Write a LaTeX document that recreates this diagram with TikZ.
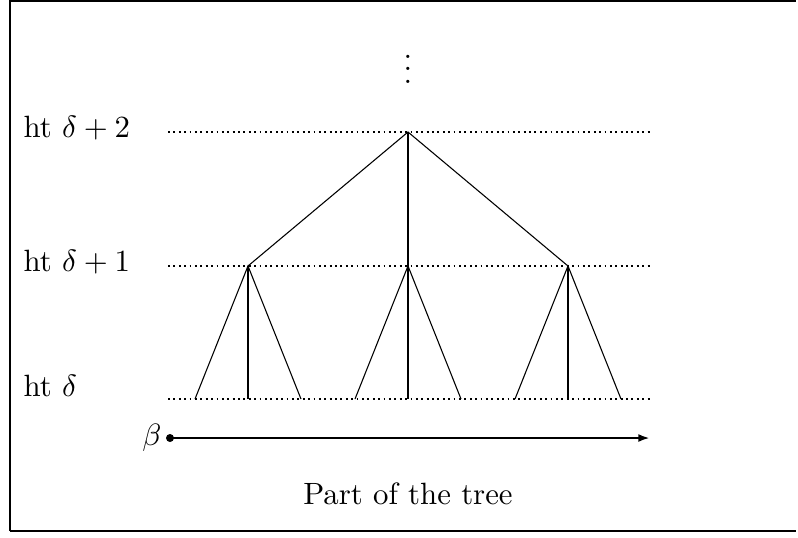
\documentclass[tikz,border=0pt]{standalone}
\usetikzlibrary{arrows.meta}
\begin{document}
\begin{tikzpicture}[x=0.3247pt,y=-0.3247pt,
  level/.style={line width=0.6pt,dash pattern=on 0.6pt off 1.15pt},
  thinedge/.style={line width=0.35pt},
  thickedge/.style={line width=0.9pt},
  lab/.style={anchor=base west,inner sep=0pt},
  frame/.style={line width=0.7pt}]
\useasboundingbox (0,0) rectangle (798,537);
% frame (partially cropped)
\draw[frame] (10,531) -- (10,1) -- (796,1);
\draw[frame] (10,531) -- (796,531);
% levels
\coordinate (a2) at (168,132); \coordinate (b2) at (650,132);
\coordinate (a1) at (168,266); \coordinate (b1) at (650,266);
\coordinate (a0) at (168,399); \coordinate (b0) at (650,399);
\draw[level] (a2) -- (b2);
\draw[level] (a1) -- (b1);
\draw[level] (a0) -- (b0);
\node[lab] (l2) at (23,137) {ht $\delta+2$};
\node[lab] (l1) at (23,271) {ht $\delta+1$};
\node[lab] (l0) at (23,396) {ht $\delta$};
\node (dots) at (408,60) {$\vdots$};
% tree
\coordinate (r) at (408,132);
\coordinate (n1) at (248,266);
\coordinate (n2) at (408,266);
\coordinate (n3) at (568,266);
\draw[thinedge] (n1) -- (r) -- (n3);
\draw[thickedge] (r) -- (408,399);
\foreach \n/\x in {n1/248,n2/408,n3/568}{
  \coordinate (\n L) at (\x-53,399);
  \coordinate (\n R) at (\x+53,399);
  \coordinate (\n B) at (\x,399);
  \draw[thinedge] (\n L) -- (\n) -- (\n R);
  \draw[thickedge] (\n) -- (\n B);
}
% beta arrow
\node (beta) at (152,438) {$\beta$};
\coordinate (s) at (170,438);
\coordinate (e) at (650,438);
\fill (s) circle (1.3pt);
\draw[line width=0.8pt,-{Latex[length=3.8pt,width=2.6pt]}] (s) -- (e);
\node (cap) at (408,494) {Part of the tree};
\end{tikzpicture}
\end{document}
